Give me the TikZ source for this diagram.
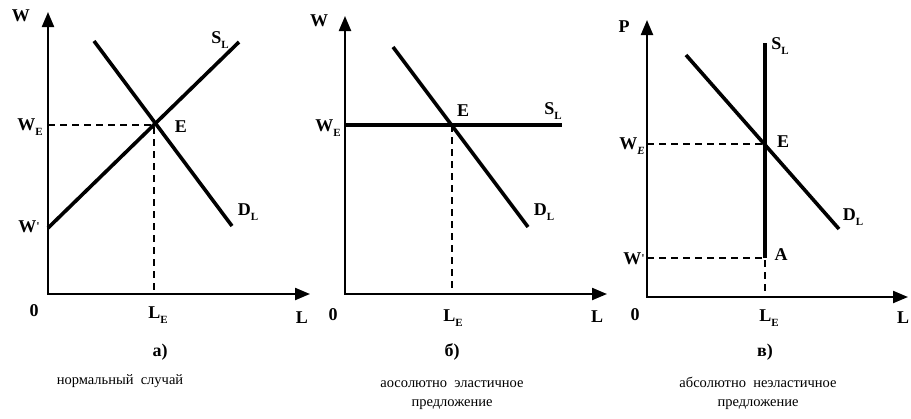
\documentclass[tikz,border=0pt]{standalone}
\usepackage{fontspec}
\setmainfont{Liberation Serif}
\usetikzlibrary{arrows.meta}
\newcommand{\sbs}[1]{\raisebox{-0.3em}{\fontsize{11}{11}\selectfont #1}}
\newcommand{\prm}{\raisebox{0.15em}{\fontsize{12}{12}\selectfont\textquotesingle}}
\begin{document}
\begin{tikzpicture}[x=1pt,y=-1pt,
  axis/.style={line width=2.2pt,line join=miter,{Triangle[length=15pt,width=12pt]}-{Triangle[length=15pt,width=12pt]}},
  curve/.style={line width=3.6pt},
  guide/.style={line width=1.8pt,dash pattern=on 7pt off 5pt},
  lab/.style={font=\bfseries\fontsize{18}{18}\selectfont,inner sep=0pt},
  capt/.style={font=\fontsize{14.5}{19}\selectfont,align=center,inner sep=0pt}]
\useasboundingbox (0,0) rectangle (911,418);

% ---------- panel a ----------
\coordinate (ao) at (48,294);
\coordinate (atop) at (48,12);
\coordinate (aright) at (310,294);
\coordinate (aE) at (154,125);
\coordinate (aWE) at (48,125);
\coordinate (aLE) at (154,294);
\coordinate (aS1) at (48,228);
\coordinate (aS2) at (239,42);
\coordinate (aD1) at (94,41);
\coordinate (aD2) at (232,226);
\draw[axis] (atop) -- (ao) -- (aright);
\draw[guide] (aWE) -- (aE) -- (aLE);
\draw[curve] (aS1) -- (aS2);
\draw[curve] (aD1) -- (aD2);
\node[lab] (aW) at (21,16) {W};
\node[lab,anchor=east] (aWEl) at (43,127) {W\sbs{E}};
\node[lab,anchor=east] (aW1) at (40,227) {W\prm};
\node[lab] (aSL) at (220,40) {S\sbs{L}};
\node[lab] (aEl) at (181,127) {E};
\node[lab] (aDL) at (248,212) {D\sbs{L}};
\node[lab] (a0) at (34,311) {0};
\node[lab] (aLEl) at (158,315) {L\sbs{E}};
\node[lab] (aL) at (302,318) {L};
\node[lab] (aname) at (160,352) {а)};
\node[capt] (acap) at (120,381) {нормальный\ \ случай};

% ---------- panel b ----------
\coordinate (bo) at (345,294);
\coordinate (btop) at (345,16);
\coordinate (bright) at (607,294);
\coordinate (bE) at (452,125);
\coordinate (bWE) at (345,125);
\coordinate (bLE) at (452,294);
\coordinate (bS2) at (562,125);
\coordinate (bD1) at (393,47);
\coordinate (bD2) at (528,227);
\draw[axis] (btop) -- (bo) -- (bright);
\draw[guide] (bE) -- (bLE);
\draw[curve] (bWE) -- (bS2);
\draw[curve] (bD1) -- (bD2);
\node[lab] (bW) at (319,21) {W};
\node[lab,anchor=east] (bWEl) at (341,128) {W\sbs{E}};
\node[lab] (bEl) at (463,111) {E};
\node[lab] (bSL) at (553,111) {S\sbs{L}};
\node[lab] (bDL) at (544,212) {D\sbs{L}};
\node[lab] (b0) at (333,315) {0};
\node[lab] (bLEl) at (453,318) {L\sbs{E}};
\node[lab] (bL) at (597,317) {L};
\node[lab] (bname) at (452,352) {б)};
\node[capt] (bcap) at (452,395) {аосолютно\ \ эластичное\\предложение};

% ---------- panel c ----------
\coordinate (co) at (647,297);
\coordinate (ctop) at (647,20);
\coordinate (cright) at (908,297);
\coordinate (cE) at (765,144);
\coordinate (cA) at (765,258);
\coordinate (cS2) at (765,43);
\coordinate (cWE) at (647,144);
\coordinate (cW1) at (647,258);
\coordinate (cLE) at (765,297);
\coordinate (cD1) at (686,55);
\coordinate (cD2) at (839,229);
\draw[axis] (ctop) -- (co) -- (cright);
\draw[guide] (cWE) -- (cE);
\draw[guide] (cW1) -- (cA) -- (cLE);
\draw[curve] (cA) -- (cS2);
\draw[curve] (cD1) -- (cD2);
\node[lab] (cP) at (624,27) {P};
\node[lab,anchor=east] (cWEl) at (645,146) {W\sbs{\itshape E}};
\node[lab,anchor=east] (cW1l) at (645,259) {W\prm};
\node[lab] (cSL) at (780,46) {S\sbs{L}};
\node[lab] (cEl) at (783,142) {E};
\node[lab] (cDL) at (853,217) {D\sbs{L}};
\node[lab] (cAl) at (781,255) {A};
\node[lab] (c0) at (635,315) {0};
\node[lab] (cLEl) at (769,318) {L\sbs{E}};
\node[lab] (cL) at (903,318) {L};
\node[lab] (cname) at (765,352) {в)};
\node[capt] (ccap) at (758,393) {абсолютно\ \ неэластичное\\предложение};
\end{tikzpicture}
\end{document}
